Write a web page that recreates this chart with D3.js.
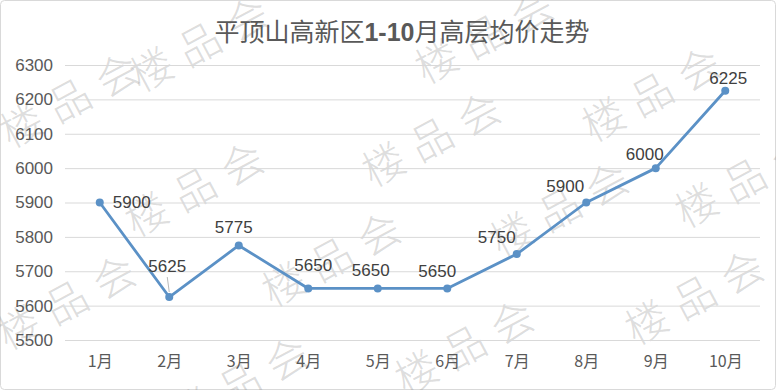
<!DOCTYPE html>
<html>
<head>
<meta charset="utf-8">
<script src="https://cdn.jsdelivr.net/npm/d3@7"></script>
<style>
  html, body { margin: 0; padding: 0; background: #fff; }
  svg { display: block; }
</style>
</head>
<body>
<svg id="chart" width="776" height="390"></svg>
<script>
// 平顶山高新区 高层均价 (元/㎡)
const months = ['1月', '2月', '3月', '4月', '5月', '6月', '7月', '8月', '9月', '10月'];
const prices = [5900, 5625, 5775, 5650, 5650, 5650, 5750, 5900, 6000, 6225];
const yTicks = [5500, 5600, 5700, 5800, 5900, 6000, 6100, 6200, 6300];
const title = ['平顶山高新区', '1-10', '月高层均价走势'];

const width = 776, height = 390;
const margin = { top: 65, right: 16, bottom: 50, left: 65 };

const svg = d3.select('#chart');

// outer frame
svg.append('rect')
  .attr('x', 0.5).attr('y', 0.5)
  .attr('width', width - 1).attr('height', height - 1)
  .attr('rx', 4)
  .attr('fill', '#fff')
  .attr('stroke', '#d9d9d9');

const x = d3.scalePoint()
  .domain(months)
  .range([margin.left, width - margin.right])
  .padding(0.5);

const y = d3.scaleLinear()
  .domain([5500, 6300])
  .range([height - margin.bottom, margin.top]);

// watermark (under the line, faint)
const marks = [[75, 98], [205, 42], [490, 34], [437, 137], [657, 92], [750, 178], [200, 187], [565, 207],
               [337, 257], [72, 300], [700, 295], [470, 345], [245, 382]];
svg.append('g')
  .attr('pointer-events', 'none')
  .selectAll('text')
  .data(marks)
  .join('text')
    .attr('transform', d => `translate(${d[0]},${d[1]}) rotate(-28)`)
    .attr('text-anchor', 'middle')
    .attr('dy', '0.35em')
    .attr('fill', '#8c8c8c')
    .attr('fill-opacity', 0.3)
    .style('font', '300 42px "Noto Sans CJK SC", sans-serif')
    .style('letter-spacing', '12px')
    .text('楼品会');

// gridlines + y labels
const yAxis = d3.axisLeft(y)
  .tickValues(yTicks)
  .tickSize(-(width - margin.right - margin.left))
  .tickPadding(12)
  .tickFormat(d3.format('d'));

svg.append('g')
  .attr('transform', `translate(${margin.left},0)`)
  .call(yAxis)
  .call(g => g.select('.domain').remove())
  .call(g => g.selectAll('.tick line').attr('stroke', '#d9d9d9'))
  .call(g => g.selectAll('.tick text')
    .attr('fill', '#595959')
    .style('font', '17px "Liberation Sans", Arial, sans-serif'));

// x labels
const xAxis = d3.axisBottom(x).tickSize(0).tickPadding(16);
svg.append('g')
  .attr('transform', `translate(0,${height - margin.bottom})`)
  .call(xAxis)
  .call(g => g.select('.domain').remove())
  .call(g => g.selectAll('.tick text')
    .attr('fill', '#595959')
    .style('font', '16px "Noto Sans CJK SC", sans-serif'));

// title
const t = svg.append('text')
  .attr('x', 402).attr('y', 41)
  .attr('text-anchor', 'middle')
  .attr('fill', '#595959')
  .style('font', '25px "Noto Sans CJK SC", sans-serif');
t.append('tspan').text(title[0]);
t.append('tspan').attr('font-weight', 'bold').style('font-family', '"Liberation Sans", sans-serif').text(title[1]);
t.append('tspan').text(title[2]);

// line
const lineColor = '#5b91c6';
const data = months.map((m, i) => ({ m, v: prices[i] }));

svg.append('path')
  .datum(data)
  .attr('fill', 'none')
  .attr('stroke', lineColor)
  .attr('stroke-width', 2.8)
  .attr('stroke-linejoin', 'round')
  .attr('d', d3.line().x(d => x(d.m)).y(d => y(d.v)));

svg.append('g')
  .selectAll('circle')
  .data(data)
  .join('circle')
    .attr('cx', d => x(d.m))
    .attr('cy', d => y(d.v))
    .attr('r', 4)
    .attr('fill', lineColor);

// data labels: offset from point (dx, dy of text centre)
const labelOffset = [[32, 0], [-2, -31], [-5, -18], [5, -23], [-7, -18], [-10, -17], [-20, -17], [-21, -16], [-11, -14], [3, -13]];

// leader line for 2月
svg.append('line')
  .attr('x1', x('2月') - 2).attr('y1', y(5625) - 20)
  .attr('x2', x('2月')).attr('y2', y(5625) - 5)
  .attr('stroke', '#a6a6a6').attr('stroke-width', 0.8);

svg.append('g')
  .selectAll('text')
  .data(data)
  .join('text')
    .attr('x', (d, i) => x(d.m) + labelOffset[i][0])
    .attr('y', (d, i) => y(d.v) + labelOffset[i][1])
    .attr('dy', '0.35em')
    .attr('text-anchor', 'middle')
    .attr('fill', '#404040')
    .style('font', '17px "Liberation Sans", Arial, sans-serif')
    .text(d => d.v);
</script>
</body>
</html>
